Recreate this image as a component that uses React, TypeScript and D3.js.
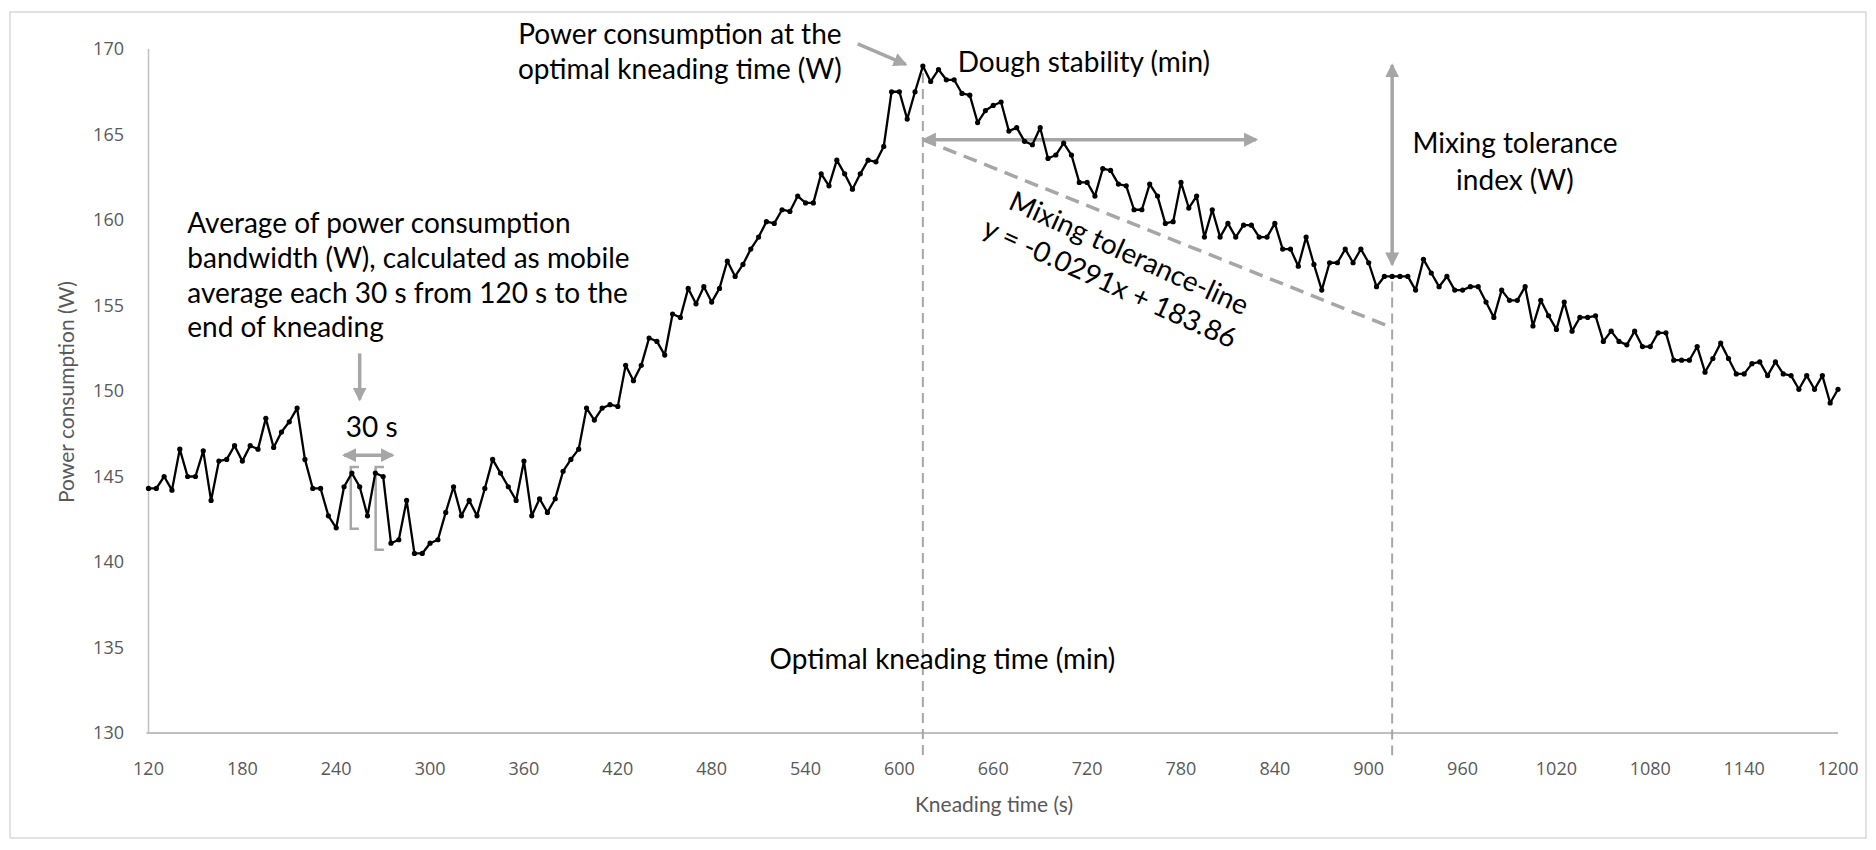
import React from "react";
import * as d3 from "d3";

// power consumption (W), one reading every 5 s from 120 s to 1200 s
const startTime = 120;
const timeStep = 5;
const power = [
  144.3, 144.3, 145.0, 144.2, 146.6, 145.0, 145.0, 146.5, 143.6, 145.9,
  146.0, 146.8, 145.9, 146.8, 146.6, 148.4, 146.7, 147.6, 148.2, 149.0,
  146.0, 144.3, 144.3, 142.7, 142.0, 144.4, 145.2, 144.4, 142.7, 145.2,
  145.0, 141.1, 141.3, 143.6, 140.5, 140.5, 141.1, 141.3, 142.9, 144.4,
  142.7, 143.6, 142.7, 144.3, 146.0, 145.2, 144.4, 143.6, 145.9, 142.7,
  143.7, 142.9, 143.7, 145.3, 146.0, 146.6, 149.0, 148.3, 149.0, 149.2,
  149.1, 151.5, 150.6, 151.5, 153.1, 152.9, 152.1, 154.5, 154.3, 156.0,
  155.1, 156.1, 155.2, 156.0, 157.6, 156.7, 157.4, 158.3, 159.0, 159.9,
  159.8, 160.6, 160.5, 161.4, 161.0, 161.0, 162.7, 162.0, 163.5, 162.7,
  161.8, 162.7, 163.5, 163.4, 164.3, 167.5, 167.5, 165.9, 167.5, 169.0,
  168.1, 168.8, 168.2, 168.2, 167.4, 167.3, 165.7, 166.4, 166.7, 166.9,
  165.2, 165.4, 164.6, 164.4, 165.4, 163.6, 163.8, 164.5, 163.8, 162.2,
  162.2, 161.4, 163.0, 162.9, 162.1, 162.0, 160.6, 160.6, 162.1, 161.4,
  159.8, 159.9, 162.2, 160.7, 161.4, 159.0, 160.6, 159.0, 159.8, 159.0,
  159.7, 159.7, 159.0, 159.0, 159.8, 158.3, 158.3, 157.3, 159.0, 157.4,
  155.9, 157.5, 157.5, 158.3, 157.5, 158.3, 157.5, 156.1, 156.7, 156.7,
  156.7, 156.7, 155.9, 157.7, 156.9, 156.1, 156.7, 155.9, 155.9, 156.1,
  156.1, 155.2, 154.3, 155.9, 155.3, 155.3, 156.1, 153.8, 155.3, 154.4,
  153.6, 155.2, 153.5, 154.3, 154.3, 154.4, 152.9, 153.5, 152.9, 152.7,
  153.5, 152.6, 152.6, 153.4, 153.4, 151.8, 151.8, 151.8, 152.6, 151.1,
  151.9, 152.8, 151.9, 151.0, 151.0, 151.6, 151.7, 150.9, 151.7, 151.0,
  150.9, 150.1, 150.9, 150.1, 150.9, 149.3, 150.1,
];

const xTicks = [120, 180, 240, 300, 360, 420, 480, 540, 600, 660, 720, 780, 840, 900, 960, 1020, 1080, 1140, 1200];
const yTicks = [130, 135, 140, 145, 150, 155, 160, 165, 170];

// annotation anchors, in data units (s, W)
const optimalTime = 615;
const toleranceTime = 915;
const stabilityEnd = 828;
const stabilityLevel = 164.7;
const toleranceLineEnd = 153.7;
const peakPower = 169.05;
const toleranceBottom = 157.4;
const windowStart = 245;
const windowEnd = 276;

const averageLines = [
  "Average of power consumption",
  "bandwidth (W), calculated as mobile",
  "average each 30 s from 120 s to the",
  "end of kneading",
];

const W = 1876;
const H = 850;
const grey = "#a6a6a6";
const font = "Lato, 'Open Sans', sans-serif";

const App = () => {
  const x = d3.scaleLinear().domain([120, 1200]).range([148.5, 1838]);
  const y = d3.scaleLinear().domain([130, 170]).range([733, 49]);

  const times = power.map((_, i) => startTime + i * timeStep);
  const line = d3
    .line<number>()
    .x((_, i) => x(times[i]))
    .y((d) => y(d));

  const lh = 34.7; // annotation line height

  return (
    <svg
      width={W}
      height={H}
      style={{ position: "absolute", left: 0, top: 0, display: "block", background: "#fff" }}
    >
      <defs>
        <marker
          id="arr"
          viewBox="0 0 14 14"
          refX="12"
          refY="7"
          markerWidth="14"
          markerHeight="14"
          markerUnits="userSpaceOnUse"
          orient="auto-start-reverse"
        >
          <path d="M0,0 L14,7 L0,14 z" fill={grey} />
        </marker>
      </defs>

      {/* chart border */}
      <rect x={10} y={12} width={1856} height={826} fill="none" stroke="#d9d9d9" strokeWidth={1.5} />

      {/* axes */}
      <line x1={x(120)} x2={x(120)} y1={y(170)} y2={y(130)} stroke="#bfbfbf" strokeWidth={1.5} />
      <line x1={x(120) - 2} x2={x(1200)} y1={y(130)} y2={y(130)} stroke="#bfbfbf" strokeWidth={2} />

      <g fill="#595959" fontFamily="'Open Sans', sans-serif" fontSize={18}>
        {yTicks.map((t) => (
          <text key={t} x={124} y={y(t)} dy="0.35em" textAnchor="end">
            {t}
          </text>
        ))}
        {xTicks.map((t) => (
          <text key={t} x={x(t)} y={775} textAnchor="middle">
            {t}
          </text>
        ))}
      </g>
      <g fill="#595959" fontFamily={font} fontSize={21}>
        <text x={994} y={812} textAnchor="middle">
          Kneading time (s)
        </text>
        <text transform={`translate(74,392) rotate(-90)`} textAnchor="middle">
          Power consumption (W)
        </text>
      </g>

      {/* reference lines */}
      <line x1={x(optimalTime)} x2={x(optimalTime)} y1={y(168.6)} y2={y(128.7)} stroke={grey} strokeWidth={2} strokeDasharray="10,6" />
      <line x1={x(toleranceTime)} x2={x(toleranceTime)} y1={y(156.4)} y2={y(128.7)} stroke={grey} strokeWidth={2} strokeDasharray="10,6" />
      <line
        x1={x(optimalTime)}
        y1={y(stabilityLevel)}
        x2={x(toleranceTime)}
        y2={y(toleranceLineEnd)}
        stroke={grey}
        strokeWidth={3.5}
        strokeDasharray="14,8"
      />

      {/* arrows */}
      <g stroke={grey} strokeWidth={3.5} fill="none">
        <line x1={x(optimalTime) + 1} y1={y(stabilityLevel)} x2={x(stabilityEnd)} y2={y(stabilityLevel)} markerStart="url(#arr)" markerEnd="url(#arr)" />
        <line x1={x(toleranceTime)} y1={y(peakPower)} x2={x(toleranceTime)} y2={y(toleranceBottom)} markerStart="url(#arr)" markerEnd="url(#arr)" />
        <line x1={x(573.4)} y1={y(170.3)} x2={x(604)} y2={y(169.1)} markerEnd="url(#arr)" />
        <line x1={x(255)} y1={y(152.2)} x2={x(255)} y2={y(149.5)} markerEnd="url(#arr)" />
        <line x1={x(windowStart)} y1={y(146.25)} x2={x(windowEnd)} y2={y(146.25)} markerStart="url(#arr)" markerEnd="url(#arr)" />
      </g>

      {/* 30 s window brackets */}
      <g stroke={grey} strokeWidth={2.5} fill="none">
        <path d={`M${x(254.5)},${y(145.55)} H${x(249.3)} V${y(141.95)} H${x(254.5)}`} />
        <path d={`M${x(270.5)},${y(145.55)} H${x(265.2)} V${y(140.72)} H${x(270.5)}`} />
      </g>

      {/* data */}
      <path d={line(power) ?? ""} fill="none" stroke="#000" strokeWidth={2.3} strokeLinejoin="round" />
      <g fill="#000">
        {power.map((d, i) => (
          <circle key={i} cx={x(times[i])} cy={y(d)} r={2.6} />
        ))}
      </g>

      {/* annotation texts */}
      <g fontFamily={font} fontSize={28} fill="#000">
        <text x={x(459.7)} y={y(170.29)} textAnchor="middle">
          <tspan x={x(459.7)}>Power consumption at the</tspan>
          <tspan x={x(459.7)} dy={lh}>optimal kneading time (W)</tspan>
        </text>
        <text x={x(637.3)} y={y(168.67)}>Dough stability (min)</text>
        <text x={x(627.5)} y={y(133.74)} textAnchor="middle">Optimal kneading time (min)</text>
        <text x={x(993.5)} y={y(163.92)} textAnchor="middle">
          <tspan x={x(993.5)}>Mixing tolerance</tspan>
          <tspan x={x(993.5)} dy={lh + 2}>index (W)</tspan>
        </text>
        <text transform={`translate(${x(746.8)},${y(158.07)}) rotate(24.5)`} textAnchor="middle" dy="0.35em">
          Mixing tolerance-line
        </text>
        <text transform={`translate(${x(734.6)},${y(156.32)}) rotate(24.5)`} textAnchor="middle" dy="0.35em">
          y = -0.0291x + 183.86
        </text>
        <text x={x(144.8)} y={y(159.22)}>
          {averageLines.map((l, i) => (
            <tspan key={i} x={x(144.8)} dy={i === 0 ? 0 : lh}>
              {l}
            </tspan>
          ))}
        </text>
        <text x={x(262.7)} y={y(147.33)} textAnchor="middle">30 s</text>
      </g>
    </svg>
  );
};

export default App;
